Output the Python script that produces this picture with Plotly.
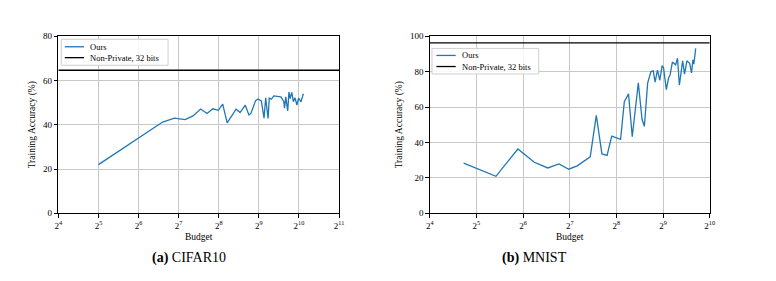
import math
import plotly.graph_objects as go

# ---------------- data ----------------
cifar_budget = [32, 64, 97, 119, 143, 164, 187, 209, 231, 254, 274, 296, 317, 345, 370,
                405, 431, 446, 484, 505, 534, 560, 576, 600, 613, 635, 662, 700, 749,
                787, 798, 815, 843, 861, 879, 904, 929, 955, 989, 1017, 1060, 1105]
cifar_acc = [22.0, 34.2, 41.2, 43.0, 42.3, 44.0, 47.1, 45.1, 47.2, 46.5, 49.3, 40.8, 43.5,
             47.0, 45.5, 48.8, 44.4, 45.1, 50.9, 51.6, 50.8, 43.0, 52.2, 42.8, 52.0, 51.5,
             53.0, 52.8, 52.6, 50.5, 47.5, 52.6, 46.2, 54.8, 51.8, 54.6, 50.4, 52.2, 48.9,
             52.0, 50.3, 54.0]
cifar_nonprivate = 64.6

mnist_budget = [26.5, 42.8, 59.3, 75.6, 92.4, 109.1, 126.2, 143, 173.6, 190, 206.5, 222.9,
                238.9, 272.5, 288, 306.6, 324, 354.6, 374.8, 388, 407.3, 427.6, 442.7,
                455.1, 471.1, 487.8, 505, 515.6, 537.4, 556.4, 568.1, 588.1, 617.4, 634.7,
                652.6, 685, 704.3, 729.1, 760.1, 781.5, 797.8, 809, 831.7]
mnist_acc = [28.3, 20.9, 36.3, 28.8, 25.6, 27.9, 24.9, 26.8, 31.9, 55.3, 33.5, 32.7, 43.6,
             41.7, 63.0, 67.4, 43.2, 73.6, 53.1, 49.1, 73.5, 80.0, 80.4, 74.0, 80.8, 75.1,
             83.4, 82.2, 69.8, 76.5, 78.0, 85.4, 83.8, 87.5, 72.4, 86.0, 78.6, 86.1, 84.7,
             79.2, 86.6, 84.2, 93.1]
mnist_nonprivate = 96.2

cifar_exps = [4, 5, 6, 7, 8, 9, 10, 11]
mnist_exps = [4, 5, 6, 7, 8, 9, 10]
cifar_yticks = [0, 20, 40, 60, 80]
mnist_yticks = [0, 20, 40, 60, 80, 100]

series_names = ["Ours", "Non-Private, 32 bits"]
captions = [("(a)", "CIFAR10"), ("(b)", "MNIST")]
x_title = "Budget"
y_title = "Training Accuracy (%)"

# ---------------- style ----------------
FONT = "Liberation Serif"
BLUE = "#1f77b4"
GRID = "#c8c8c8"
W, H = 776, 281


def px_x(p):
    return p / W


def px_y(p):
    return 1 - p / H


fig = go.Figure()

fig.add_trace(go.Scatter(x=cifar_budget, y=cifar_acc, mode="lines", name=series_names[0],
                         line=dict(color=BLUE, width=1.3), xaxis="x", yaxis="y",
                         showlegend=False))
fig.add_trace(go.Scatter(x=[2 ** cifar_exps[0], 2 ** cifar_exps[-1]],
                         y=[cifar_nonprivate, cifar_nonprivate], mode="lines",
                         name=series_names[1], line=dict(color="black", width=1.3),
                         xaxis="x", yaxis="y", showlegend=False))
fig.add_trace(go.Scatter(x=mnist_budget, y=mnist_acc, mode="lines", name=series_names[0],
                         line=dict(color=BLUE, width=1.3), xaxis="x2", yaxis="y2",
                         showlegend=False))
fig.add_trace(go.Scatter(x=[2 ** mnist_exps[0], 2 ** mnist_exps[-1]],
                         y=[mnist_nonprivate, mnist_nonprivate], mode="lines",
                         name=series_names[1], line=dict(color="black", width=1.3),
                         xaxis="x2", yaxis="y2", showlegend=False))


def xaxis_cfg(exps, dom, anchor):
    return dict(type="log", domain=dom, anchor=anchor,
                range=[exps[0] * math.log10(2), exps[-1] * math.log10(2)],
                tickvals=[2 ** e for e in exps],
                ticktext=[f"2<sup>{e}</sup>" for e in exps],
                ticks="outside", ticklen=3.5, tickcolor="black", tickwidth=1,
                showline=True, linecolor="black", linewidth=1, mirror=True,
                showgrid=True, gridcolor=GRID, gridwidth=1,
                tickfont=dict(family=FONT, size=9, color="black"),
                title=dict(text=x_title, font=dict(family=FONT, size=9.5, color="black"),
                           standoff=3),
                zeroline=False)


def yaxis_cfg(ticks, dom, anchor):
    return dict(domain=dom, anchor=anchor, range=[ticks[0], ticks[-1]],
                tickvals=ticks, ticktext=[str(t) for t in ticks],
                ticks="outside", ticklen=3.5, tickcolor="black", tickwidth=1,
                showline=True, linecolor="black", linewidth=1, mirror=True,
                showgrid=True, gridcolor=GRID, gridwidth=1,
                tickfont=dict(family=FONT, size=9, color="black"),
                title=dict(text=y_title, font=dict(family=FONT, size=9.5, color="black"),
                           standoff=5),
                zeroline=False)


ydom = [px_y(216), px_y(32.3)]

fig.update_layout(
    width=W, height=H,
    margin=dict(l=0, r=0, t=0, b=0),
    paper_bgcolor="white", plot_bgcolor="white",
    xaxis=xaxis_cfg(cifar_exps, [px_x(55), px_x(339)], "y"),
    yaxis=yaxis_cfg(cifar_yticks, ydom, "x"),
    xaxis2=xaxis_cfg(mnist_exps, [px_x(430.7), px_x(714)], "y2"),
    yaxis2=yaxis_cfg(mnist_yticks, ydom, "x2"),
    showlegend=False,
)

# ---- legends (drawn as boxes with line samples and text) ----
legend_specs = [
    dict(box=(58, 166, 35.5, 62.5), ys=(43.3, 54.6), hx=(61.5, 81), tx=85),
    dict(box=(433, 541, 45, 71.5), ys=(52.3, 63.8), hx=(437.5, 457), tx=461),
]
colors = [BLUE, "black"]
for spec in legend_specs:
    x0, x1, y0, y1 = spec["box"]
    fig.add_shape(type="rect", xref="paper", yref="paper",
                  x0=px_x(x0), x1=px_x(x1), y0=px_y(y1), y1=px_y(y0),
                  fillcolor="rgba(255,255,255,0.85)", line=dict(color="#cfcfcf", width=1),
                  layer="above")
    for yy, col, name in zip(spec["ys"], colors, series_names):
        fig.add_shape(type="line", xref="paper", yref="paper",
                      x0=px_x(spec["hx"][0]), x1=px_x(spec["hx"][1]),
                      y0=px_y(yy), y1=px_y(yy),
                      line=dict(color=col, width=1.3), layer="above")
        fig.add_annotation(text=name, x=px_x(spec["tx"]), y=px_y(yy),
                           xref="paper", yref="paper", xanchor="left", yanchor="middle",
                           showarrow=False,
                           font=dict(family=FONT, size=8.5, color="black"))

for (lab, name), cx in zip(captions, [187.5, 536.5]):
    fig.add_annotation(text=f"<b>{lab}</b> {name}", x=px_x(cx), y=px_y(262),
                       xref="paper", yref="paper", xanchor="center", yanchor="middle",
                       showarrow=False,
                       font=dict(family=FONT, size=14, color="black"))

fig.write_html("out.html", post_script="document.body.style.margin='0';",
               config={"displayModeBar": False})
